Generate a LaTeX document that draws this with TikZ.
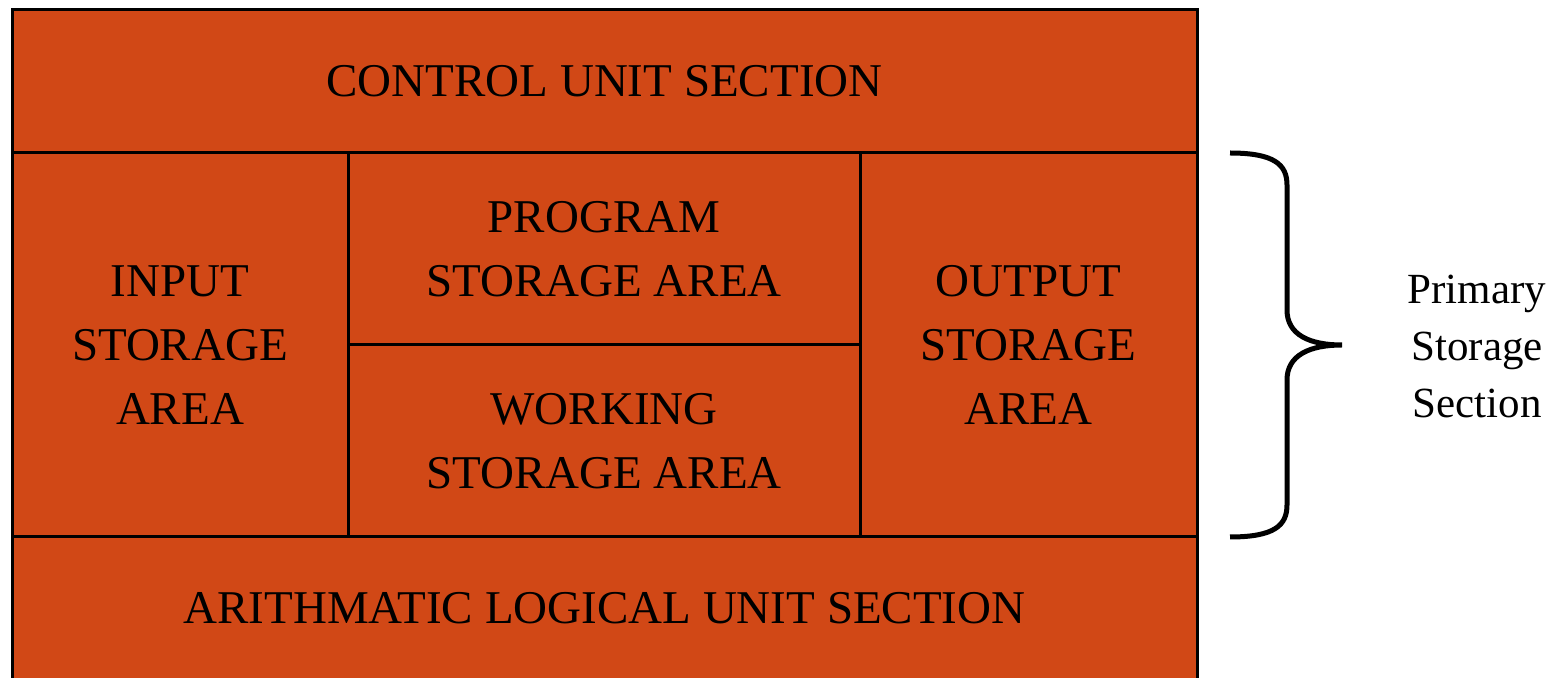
\documentclass[tikz,border=0pt]{standalone}
\usepackage{fontspec}
\setmainfont{Liberation Serif}
\definecolor{cellfill}{HTML}{D14816}
\tikzset{
    cell/.style={draw=black, line width=1.5pt, fill=cellfill, inner sep=0pt, align=center,
        font=\fontsize{23.5}{32}\selectfont},
    bracelabel/.style={align=center, font=\fontsize{21.5}{28.5}\selectfont}
}
\begin{document}
\begin{tikzpicture}[x=0.5pt, y=-0.5pt]
        \useasboundingbox (0,0) rectangle (1554,678);
        \clip (0,0) rectangle (1554,678);
        \fill[white] (0,0) rectangle (1554,678);
        % sections
        \node[cell, minimum width=592.5pt, minimum height=71.5pt] (ctrl) at (604.5,81.5) {CONTROL UNIT SECTION};
        \node[cell, minimum width=592.5pt, minimum height=71.5pt] (alu) at (604.5,608.5) {ARITHMATIC LOGICAL UNIT SECTION};
        \node[cell, minimum width=168pt, minimum height=192pt] (input) at (180,345) {INPUT\\STORAGE\\AREA};
        \node[cell, minimum width=256pt, minimum height=96pt] (prog) at (604,249) {PROGRAM\\STORAGE AREA};
        \node[cell, minimum width=256pt, minimum height=96pt] (work) at (604,441) {WORKING\\STORAGE AREA};
        \node[cell, minimum width=168.5pt, minimum height=192pt] (output) at (1028.5,345) {OUTPUT\\STORAGE\\AREA};
        % brace
        \draw[line width=2.5pt] (1230,153) .. controls (1275,153) and (1287,165) .. (1287,185)
            -- (1287,310) .. controls (1287,335) and (1310,345) .. (1342,345)
            .. controls (1310,345) and (1287,355) .. (1287,380)
            -- (1287,505) .. controls (1287,525) and (1275,537) .. (1230,537);
        \node[bracelabel] (primary) at (1477,346) {Primary\\Storage\\Section};
    \end{tikzpicture}
\end{document}
